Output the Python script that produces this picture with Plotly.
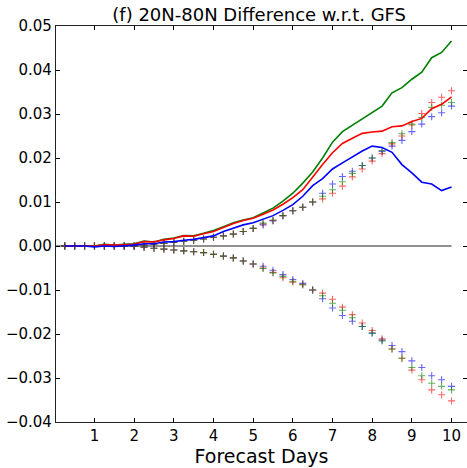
import plotly.graph_objects as go

days = [0.25, 0.5, 0.75, 1.0, 1.25, 1.5, 1.75, 2.0, 2.25, 2.5,
        2.75, 3.0, 3.25, 3.5, 3.75, 4.0, 4.25, 4.5, 4.75, 5.0,
        5.25, 5.5, 5.75, 6.0, 6.25, 6.5, 6.75, 7.0, 7.25, 7.5,
        7.75, 8.0, 8.25, 8.5, 8.75, 9.0, 9.25, 9.5, 9.75, 10.0]

green_line = [0, 0, 0, 0, 0.0004, 0.0002, 0.0004, 0.0005, 0.0011, 0.0009,
              0.0015, 0.0018, 0.0024, 0.0023, 0.0029, 0.0035, 0.0044, 0.0053, 0.0059, 0.0064,
              0.0075, 0.0086, 0.0102, 0.0120, 0.0143, 0.0168, 0.0200, 0.0236, 0.0260, 0.0275,
              0.0290, 0.0305, 0.0318, 0.0348, 0.0360, 0.0379, 0.0395, 0.0428, 0.0440, 0.0466]
red_line = [0, 0, 0, 0, 0.0003, 0.0002, 0.0003, 0.0004, 0.0010, 0.0009,
            0.0014, 0.0017, 0.0023, 0.0022, 0.0028, 0.0033, 0.0042, 0.0051, 0.0058, 0.0063,
            0.0072, 0.0082, 0.0095, 0.0110, 0.0128, 0.0157, 0.0185, 0.0212, 0.0233, 0.0245,
            0.0256, 0.0259, 0.0261, 0.0271, 0.0273, 0.0283, 0.0290, 0.0312, 0.0322, 0.0339]
blue_line = [0, 0, 0, -0.0002, 0.0, -0.0001, 0.0, 0.0002, 0.0005, 0.0005,
             0.0009, 0.0010, 0.0013, 0.0015, 0.0019, 0.0023, 0.0033, 0.0041, 0.0048, 0.0053,
             0.0061, 0.0069, 0.0081, 0.0094, 0.0113, 0.0137, 0.0153, 0.0175, 0.0189, 0.0203,
             0.0216, 0.0227, 0.0224, 0.0213, 0.0185, 0.0166, 0.0145, 0.0141, 0.0126, 0.0134]

green_pos = [0, 0, 0, 0, 0, 0, 0, 0, 0.0002, 0.0004,
             0.0006, 0.0008, 0.0011, 0.0013, 0.0016, 0.0020, 0.0023, 0.0027, 0.0033, 0.0040,
             0.0052, 0.0059, 0.0069, 0.0080, 0.0088, 0.0100, 0.0113, 0.0128, 0.0146, 0.0165,
             0.0183, 0.0200, 0.0217, 0.0235, 0.0255, 0.0277, 0.0292, 0.0315, 0.0320, 0.0326]
red_pos = [0, 0, 0, 0, 0, 0, 0, 0, 0.0002, 0.0004,
           0.0006, 0.0008, 0.0011, 0.0013, 0.0016, 0.0020, 0.0023, 0.0027, 0.0033, 0.0040,
           0.0050, 0.0058, 0.0069, 0.0080, 0.0088, 0.0100, 0.0107, 0.0120, 0.0136, 0.0157,
           0.0175, 0.0193, 0.0210, 0.0232, 0.0250, 0.0275, 0.0301, 0.0326, 0.0338, 0.0353]
blue_pos = [0, 0, 0, 0, 0, 0, 0, 0, 0.0002, 0.0004,
            0.0006, 0.0008, 0.0011, 0.0013, 0.0016, 0.0020, 0.0023, 0.0027, 0.0033, 0.0040,
            0.0048, 0.0057, 0.0069, 0.0080, 0.0088, 0.0100, 0.0120, 0.0141, 0.0158, 0.0170,
            0.0183, 0.0200, 0.0215, 0.0227, 0.0240, 0.0260, 0.0277, 0.0294, 0.0303, 0.0318]

green_neg = [0, 0, 0, 0, 0, 0, 0, 0, -0.0003, -0.0005,
             -0.0007, -0.0009, -0.0011, -0.0013, -0.0015, -0.0019, -0.0023, -0.0027, -0.0034, -0.0041,
             -0.0051, -0.0061, -0.0069, -0.0080, -0.0088, -0.0100, -0.0113, -0.0130, -0.0146, -0.0163,
             -0.0183, -0.0198, -0.0216, -0.0234, -0.0255, -0.0276, -0.0295, -0.0312, -0.0319, -0.0327]
red_neg = [0, 0, 0, 0, 0, 0, 0, 0, -0.0003, -0.0005,
           -0.0007, -0.0009, -0.0011, -0.0013, -0.0015, -0.0019, -0.0023, -0.0027, -0.0034, -0.0041,
           -0.0050, -0.0060, -0.0072, -0.0082, -0.0088, -0.0100, -0.0107, -0.0121, -0.0139, -0.0156,
           -0.0175, -0.0192, -0.0211, -0.0234, -0.0255, -0.0282, -0.0304, -0.0327, -0.0338, -0.0352]
blue_neg = [0, 0, 0, 0, 0, 0, 0, 0, -0.0003, -0.0005,
            -0.0007, -0.0009, -0.0011, -0.0013, -0.0015, -0.0019, -0.0023, -0.0027, -0.0034, -0.0041,
            -0.0046, -0.0055, -0.0065, -0.0076, -0.0085, -0.0100, -0.0120, -0.0141, -0.0158, -0.0171,
            -0.0183, -0.0198, -0.0214, -0.0226, -0.0240, -0.0261, -0.0276, -0.0295, -0.0304, -0.0319]

x_ticks = [1, 2, 3, 4, 5, 6, 7, 8, 9, 10]
y_ticks = [0.05, 0.04, 0.03, 0.02, 0.01, 0.0, -0.01, -0.02, -0.03, -0.04]
y_tick_text = ["0.05", "0.04", "0.03", "0.02", "0.01", "0.00",
               "\u22120.01", "\u22120.02", "\u22120.03", "\u22120.04"]

GREEN = "#008000"
RED = "#ff0000"
BLUE = "#0000ff"
FONT = "DejaVu Sans"

fig = go.Figure()

# zero reference line
fig.add_trace(go.Scatter(x=[0, days[-1]], y=[0, 0], mode="lines",
                         line=dict(color="#222222", width=1), hoverinfo="skip"))

for series, col in [(blue_pos, BLUE), (red_pos, RED), (green_pos, GREEN),
                    (blue_neg, BLUE), (red_neg, RED), (green_neg, GREEN)]:
    fig.add_trace(go.Scatter(x=days, y=series, mode="markers",
                             marker=dict(symbol="cross-thin", size=5, opacity=0.6,
                                         line=dict(color=col, width=1.1))))

for series, col in [(green_line, GREEN), (red_line, RED), (blue_line, BLUE)]:
    fig.add_trace(go.Scatter(x=days, y=series, mode="lines",
                             line=dict(color=col, width=1.6)))

fig.update_layout(
    width=467, height=468,
    margin=dict(l=56, r=0, t=26, b=46),
    paper_bgcolor="white", plot_bgcolor="white",
    showlegend=False,
    font=dict(family=FONT, color="black"),
    title=dict(text="(f) 20N-80N Difference w.r.t. GFS", x=0.555, xanchor="center",
               y=1 - 14.5 / 468, yanchor="middle", yref="container",
               font=dict(family=FONT, size=18, color="black")),
)
fig.update_xaxes(range=[0.03, 10.39], tickvals=x_ticks, ticktext=[str(t) for t in x_ticks],
                 ticks="inside", ticklen=4, tickcolor="black", tickwidth=1,
                 showline=True, linecolor="#222222", linewidth=1.2, mirror="ticks",
                 showgrid=False, zeroline=False,
                 tickfont=dict(family=FONT, size=15, color="black"),
                 title=dict(text="Forecast Days", standoff=5,
                            font=dict(family=FONT, size=19, color="black")))
fig.update_yaxes(range=[-0.04, 0.05], tickvals=y_ticks, ticktext=y_tick_text,
                 ticks="inside", ticklen=4, tickcolor="black", tickwidth=1,
                 showline=True, linecolor="#222222", linewidth=1.2, mirror="ticks",
                 showgrid=False, zeroline=False,
                 tickfont=dict(family=FONT, size=15, color="black"))

fig.write_html("out.html")
